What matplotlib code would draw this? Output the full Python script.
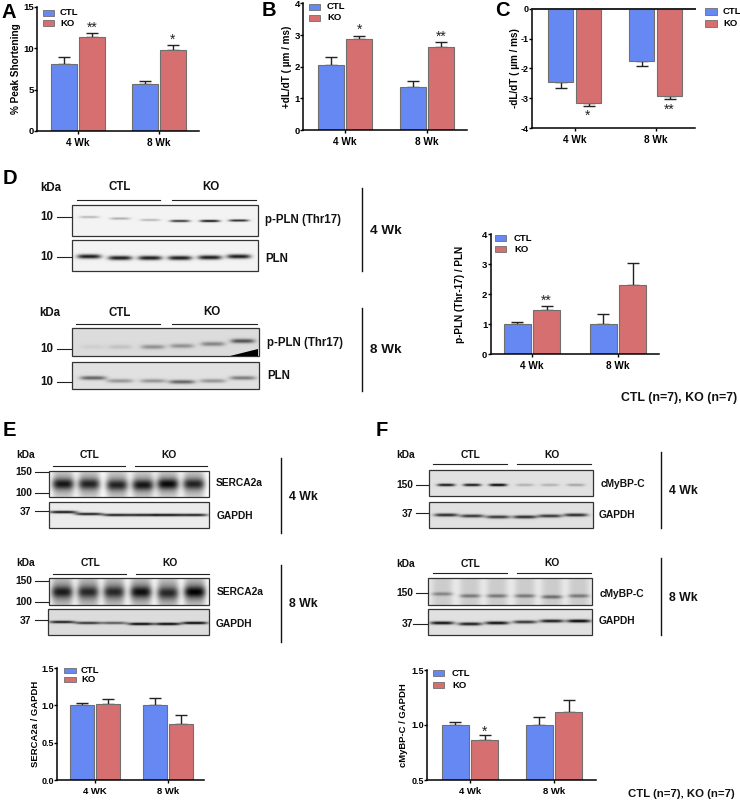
import numpy as np
import matplotlib
matplotlib.use("Agg")
import matplotlib.pyplot as plt
from matplotlib.patches import Rectangle, Polygon

plt.rcParams['font.family'] = ['Liberation Sans', 'DejaVu Sans']
plt.rcParams['font.weight'] = 'bold'
plt.rcParams['mathtext.default'] = 'regular'

W, H = 740, 801
BLUE, RED = '#6688F3', '#D56F70'
EDGE = '#6f6f6f'

groups = ['4 Wk', '8 Wk']
groups_e = ['4 WK', '8 Wk']

a_ctl = [8.1, 5.65];   a_ctl_top = [9.0, 6.0]
a_ko = [11.4, 9.85];   a_ko_top = [11.8, 10.4]
b_ctl = [2.05, 1.36];  b_ctl_top = [2.3, 1.56]
b_ko = [2.87, 2.63];   b_ko_top = [2.97, 2.77]
c_ctl = [-2.45, -1.75]; c_ctl_top = [-2.67, -1.9]
c_ko = [-3.17, -2.92];  c_ko_top = [-3.27, -3.03]
d_ctl = [1.0, 1.0];    d_ctl_top = [1.07, 1.33]
d_ko = [1.47, 2.3];    d_ko_top = [1.62, 3.03]
e_ctl = [1.0, 1.0];    e_ctl_top = [1.03, 1.1]
e_ko = [1.02, 0.75];   e_ko_top = [1.08, 0.87]
f_ctl = [1.0, 1.0];    f_ctl_top = [1.03, 1.075]
f_ko = [0.865, 1.12];  f_ko_top = [0.905, 1.225]

fig = plt.figure(figsize=(W / 100, H / 100), dpi=100, facecolor='white')

ov = fig.add_axes([0, 0, 1, 1], zorder=5)
ov.set_xlim(0, W); ov.set_ylim(H, 0); ov.axis('off'); ov.patch.set_alpha(0)


def bar_chart(box, c0, c1, bw, ctl, ctl_top, ko, ko_top, ylim, yticks, ytl, ylabel,
              labels, ylab_x, fs=6.8, lab_fs=7.2, inverted=False):
    l, t, r, b = box
    ax = fig.add_axes([l / W, 1 - b / H, (r - l) / W, (b - t) / H])
    sp = c1 - c0
    ax.set_xlim((l - c0) / sp, (r - c0) / sp)
    ax.set_ylim(*ylim)
    w = bw / sp
    off = (w + 2.5 / sp) / 2
    x = np.arange(2)
    for xs, v, top, col in [(x - off, ctl, ctl_top, BLUE), (x + off, ko, ko_top, RED)]:
        ax.bar(xs, v, width=w, color=col, edgecolor=EDGE, linewidth=0.8, zorder=2)
        v = np.array(v); top = np.array(top)
        ax.errorbar(xs, v, yerr=[np.zeros(2) if not inverted else v - top,
                                 top - v if not inverted else np.zeros(2)],
                    fmt='none', ecolor='#222222', elinewidth=1.0, capsize=4, capthick=1.0, zorder=1)
    for s in ['top', 'right']:
        ax.spines[s].set_visible(False)
    for s in ['left', 'bottom']:
        ax.spines[s].set_linewidth(1.1)
    ax.set_xticks(x); ax.set_xticklabels(labels, fontsize=lab_fs, fontweight='bold')
    ax.set_yticks(yticks); ax.set_yticklabels(ytl, fontsize=fs, fontweight='bold')
    ax.tick_params(axis='x', length=2, width=1.0, pad=3.2)
    ax.tick_params(axis='y', length=2, width=1.0, pad=0.4)
    ov.text(ylab_x, (t + b) / 2, ylabel, rotation=90, ha='center', va='center', fontsize=lab_fs, fontweight='bold')
    ax.patch.set_alpha(0)
    return ax


bar_chart((37, 7, 199, 131), 78, 159, 25.5, a_ctl, a_ctl_top, a_ko, a_ko_top, (0, 15), [0, 5, 10, 15],
          ['0', '5', '10', '15'], '% Peak Shortening', groups, 16)
bar_chart((303, 3.5, 467, 130), 345, 427, 26, b_ctl, b_ctl_top, b_ko, b_ko_top, (0, 4), [0, 1, 2, 3, 4],
          ['0', '1', '2', '3', '4'], '+dL/dT ( \u00b5m / ms)', groups, 287)
axc = bar_chart((532, 9, 695, 128), 574.5, 655.5, 25.5, c_ctl, c_ctl_top, c_ko, c_ko_top, (-4, 0), [-4, -3, -2, -1, 0],
                ['-4', '-3', '-2', '-1', '0'], '-dL/dT ( \u00b5m / ms)', groups, 515, fs=6.5, inverted=True)
axc.axhline(0, color='#222222', lw=1.4, zorder=3, clip_on=False)
bar_chart((490.7, 234.3, 659, 354), 532, 618, 27, d_ctl, d_ctl_top, d_ko, d_ko_top, (0, 4), [0, 1, 2, 3, 4],
          ['0', '1', '2', '3', '4'], 'p-PLN (Thr-17) / PLN', groups, 460)
bar_chart((57, 668, 204, 780), 95, 168, 23.3, e_ctl, e_ctl_top, e_ko, e_ko_top, (0, 1.5), [0, 0.5, 1.0, 1.5],
          ['0.0', '0.5', '1.0', '1.5'], 'SERCA2a / GAPDH', groups_e, 36, fs=6.5, lab_fs=6.8)
bar_chart((427, 670, 596, 780), 470, 554, 27, f_ctl, f_ctl_top, f_ko, f_ko_top, (0.5, 1.5), [0.5, 1.0, 1.5],
          ['0.5', '1.0', '1.5'], 'cMyBP-C / GAPDH', groups, 403, fs=6.5, lab_fs=6.8)

# legends
for lx, ly1, ly2, tx, hgt in [(42.5, 9.5, 20, 60, 6.2), (308.7, 3.5, 14.5, 327, 6.2), (705, 8, 20, 723, 6.5),
                              (494.7, 235, 246, 514, 6.3), (64, 667.7, 677, 81, 5.4), (432.7, 670, 682, 452, 6)]:
    for y, c, s in [(ly1, BLUE, 'CTL'), (ly2, RED, 'KO')]:
        ov.add_patch(Rectangle((lx, y), 11.5, hgt, facecolor=c, edgecolor=EDGE, lw=0.6))
        ov.text(tx, y + hgt / 2, s, ha='left', va='center', fontsize=6.8, fontweight='bold')

# significance marks
for x, y, s in [(92, 28, '**'), (173, 40, '*'), (359.5, 30, '*'), (441, 37, '**'), (588, 116, '*'), (669, 110, '**'),
                (546.5, 301, '**'), (484.5, 732, '*')]:
    ov.text(x, y, s, ha='center', va='center', fontsize=10, fontweight='normal', color='#222222')

# panel letters
for x, y, s in [(2, 12, 'A'), (262, 11, 'B'), (495, 11, 'C'), (3, 179, 'D'), (3, 431, 'E'), (376, 431, 'F')]:
    ov.text(x, y, s, ha='left', va='center', fontsize=14.5, fontweight='bold')

lanes_d1 = [89, 120, 150, 180, 210, 239]
lanes_d2 = [93, 120, 153, 182, 213, 243]
lanes_e1 = [63, 89, 117, 143, 168, 194]
lanes_e2 = [62, 88, 114, 141, 168, 195]
lanes_f1 = [446, 472, 498, 525, 550, 576]
lanes_f2 = [442, 470, 497, 525, 552, 579]

# band strength per lane
blots = [
    ((72, 205, 258, 236), .95, lanes_d1, [217, 218.5, 220, 221, 221, 220.5], [.25, .3, .25, .8, .95, .85], 10, 1.1),
    ((72, 240, 258, 271), .95, lanes_d1, [256.5, 258, 258, 258, 257.5, 256.5], [.85, .85, .85, .85, .85, .85], 12, 2.2),
    ((72, 328, 259, 356), .86, lanes_d2, [347, 347, 347, 346, 344, 341], [.05, .1, .3, .3, .35, .55], 12, 2.2),
    ((72, 362, 259, 389), .88, lanes_d2, [378, 381, 381, 382, 381, 378], [.5, .3, .3, .5, .3, .4], 13, 2),
    ((49, 471, 209, 497), 1., lanes_e1, [484, 484, 485, 485, 484, 484], [.62, .57, .57, .62, .67, .57], 11, 5.5),
    ((49, 502, 209, 528), .92, lanes_e1, [512, 514, 515, 515, 515, 515], [.9, .85, .85, .85, .9, .85], 14, 1.3),
    ((49, 578, 209, 605), 1., lanes_e2, [592, 592, 592, 592, 593, 592], [.55, .5, .5, .6, .5, .65], 11, 6),
    ((48, 609, 209, 635), .86, lanes_e2, [622, 623, 623, 624, 624, 623], [.8, .7, .55, .9, .9, .9], 13, 1.3),
    ((429, 470, 593, 496), .88, lanes_f1, [485, 485, 485, 485, 485, 485], [.85, .85, .95, .2, .2, .25], 9, 1.3),
    ((429, 502, 593, 528), .88, lanes_f1, [515, 516, 517, 517, 516, 515], [.75, .7, .7, .75, .7, .75], 12, 1.6),
    ((428, 578, 592, 605), .92, lanes_f2, [594, 596, 596, 596, 597, 596], [.3, .35, .35, .35, .4, .35], 10.5, 1.8),
    ((428, 609, 592, 635), .88, lanes_f2, [623, 624, 623, 622, 621, 621], [.85, .8, .85, .7, .8, .9], 12, 1.6),
]
smear_idx = {4: 0.3, 6: 0.35, 10: 0.12}

for i, (box, bg, lx, ly, dk, hw, hh) in enumerate(blots):
    x0, y0, x1, y1 = box
    xs = np.linspace(x0, x1, int((x1 - x0) * 2))
    ys = np.linspace(y0, y1, int((y1 - y0) * 2))
    X, Y = np.meshgrid(xs, ys)
    im = np.full(X.shape, float(bg))
    for cx, cy, d in zip(lx, ly, dk):
        im -= d * np.exp(-((X - cx) / hw) ** 4) * np.exp(-((Y - cy) / hh) ** 2)
        if i in smear_idx:
            im -= smear_idx[i] * np.exp(-((X - cx) / hw) ** 4) * np.exp(-((Y - cy) / (3 * hh)) ** 4 if i != 10 else 0)
    ov.imshow(np.clip(im, 0, 1), extent=(x0, x1, y1, y0), cmap='gray', vmin=0, vmax=1,
              aspect='auto', interpolation='bilinear', zorder=1)
    ov.add_patch(Rectangle((x0, y0), x1 - x0, y1 - y0, fill=False, edgecolor='#333333', lw=0.9, zorder=2))
ov.add_patch(Polygon([(230, 356), (258, 349), (258, 356)], closed=True, facecolor='black', edgecolor='none', zorder=3))
ov.set_xlim(0, W); ov.set_ylim(H, 0)

FD, FE = 8.3, 7.4
# (x, y, text, horizontal alignment, size)
labels = [
    (40, 188, 'kDa', 'left', FD), (120, 187, 'CTL', 'center', FD), (211, 187, 'KO', 'center', FD),
    (53, 217, '10', 'right', FD), (53, 257, '10', 'right', FD),
    (265, 220, 'p-PLN (Thr17)', 'left', FD), (265, 259, 'PLN', 'left', FD), (370, 231, '4 Wk', 'left', 9.7),
    (39, 313, 'kDa', 'left', FD), (120, 313, 'CTL', 'center', FD), (212, 312, 'KO', 'center', FD),
    (53, 349, '10', 'right', FD), (53, 382, '10', 'right', FD),
    (267, 343, 'p-PLN (Thr17)', 'left', FD), (267, 376, 'PLN', 'left', FD), (370, 350, '8 Wk', 'left', 9.7),
    (16, 455, 'kDa', 'left', FE), (90, 455, 'CTL', 'center', FE), (169, 455, 'KO', 'center', FE),
    (32, 472, '150', 'right', FE), (32, 493, '100', 'right', FE), (31, 512, '37', 'right', FE),
    (216, 483, 'SERCA2a', 'left', FE), (217, 516, 'GAPDH', 'left', FE), (289, 497, '4 Wk', 'left', 8.8),
    (16, 563, 'kDa', 'left', FE), (91, 563, 'CTL', 'center', FE), (170, 563, 'KO', 'center', FE),
    (32, 581, '150', 'right', FE), (32, 602, '100', 'right', FE), (31, 621, '37', 'right', FE),
    (217, 592, 'SERCA2a', 'left', FE), (216, 624, 'GAPDH', 'left', FE), (289, 604, '8 Wk', 'left', 8.8),
    (396, 455, 'kDa', 'left', FE), (471, 455, 'CTL', 'center', FE), (552, 455, 'KO', 'center', FE),
    (413, 485, '150', 'right', FE), (413, 514, '37', 'right', FE),
    (601, 484, 'cMyBP-C', 'left', FE), (599, 515, 'GAPDH', 'left', FE), (669, 491, '4 Wk', 'left', 8.8),
    (396, 564, 'kDa', 'left', FE), (471, 564, 'CTL', 'center', FE), (552, 563, 'KO', 'center', FE),
    (413, 593, '150', 'right', FE), (413, 624, '37', 'right', FE),
    (600, 594, 'cMyBP-C', 'left', FE), (599, 621, 'GAPDH', 'left', FE), (669, 598, '8 Wk', 'left', 8.8),
    (621, 398, 'CTL (n=7), KO (n=7)', 'left', 8.9), (628, 794, 'CTL (n=7), KO (n=7)', 'left', 8.2),
]
for x, y, s, ha, size in labels:
    ov.text(x, y, s, ha=ha, va='center', fontsize=size, fontweight='bold', color='#111111', zorder=6)

# group rules, marker dashes, age dividers
rules = [
    (77, 160, 200), (172, 256, 200), (76, 160, 324), (172, 257, 324),
    (53, 125, 466), (135, 207, 466), (53, 126, 574), (136, 209, 574),
    (433, 507, 464), (517, 591, 464), (433, 507, 573), (517, 591, 573),
    (57, 72, 217), (57, 72, 257), (57, 71, 349), (57, 71, 382),
    (35, 48, 472), (35, 48, 493), (35, 48, 511), (35, 48, 581), (35, 48, 602), (35, 48, 620),
    (416, 428, 485), (416, 428, 513), (416, 428, 593), (413, 427, 624),
]
for x0, x1, y in rules:
    ov.plot([x0, x1], [y, y], color='#222222', lw=0.8, zorder=3)
for x, y0, y1 in [(362, 188, 271), (362, 308, 391), (281, 458, 533), (281, 565, 642), (661, 452, 528), (661, 558, 635)]:
    ov.plot([x, x], [y0, y1], color='#111111', lw=1.0, zorder=3)

fig.savefig('out.png', dpi=100)
